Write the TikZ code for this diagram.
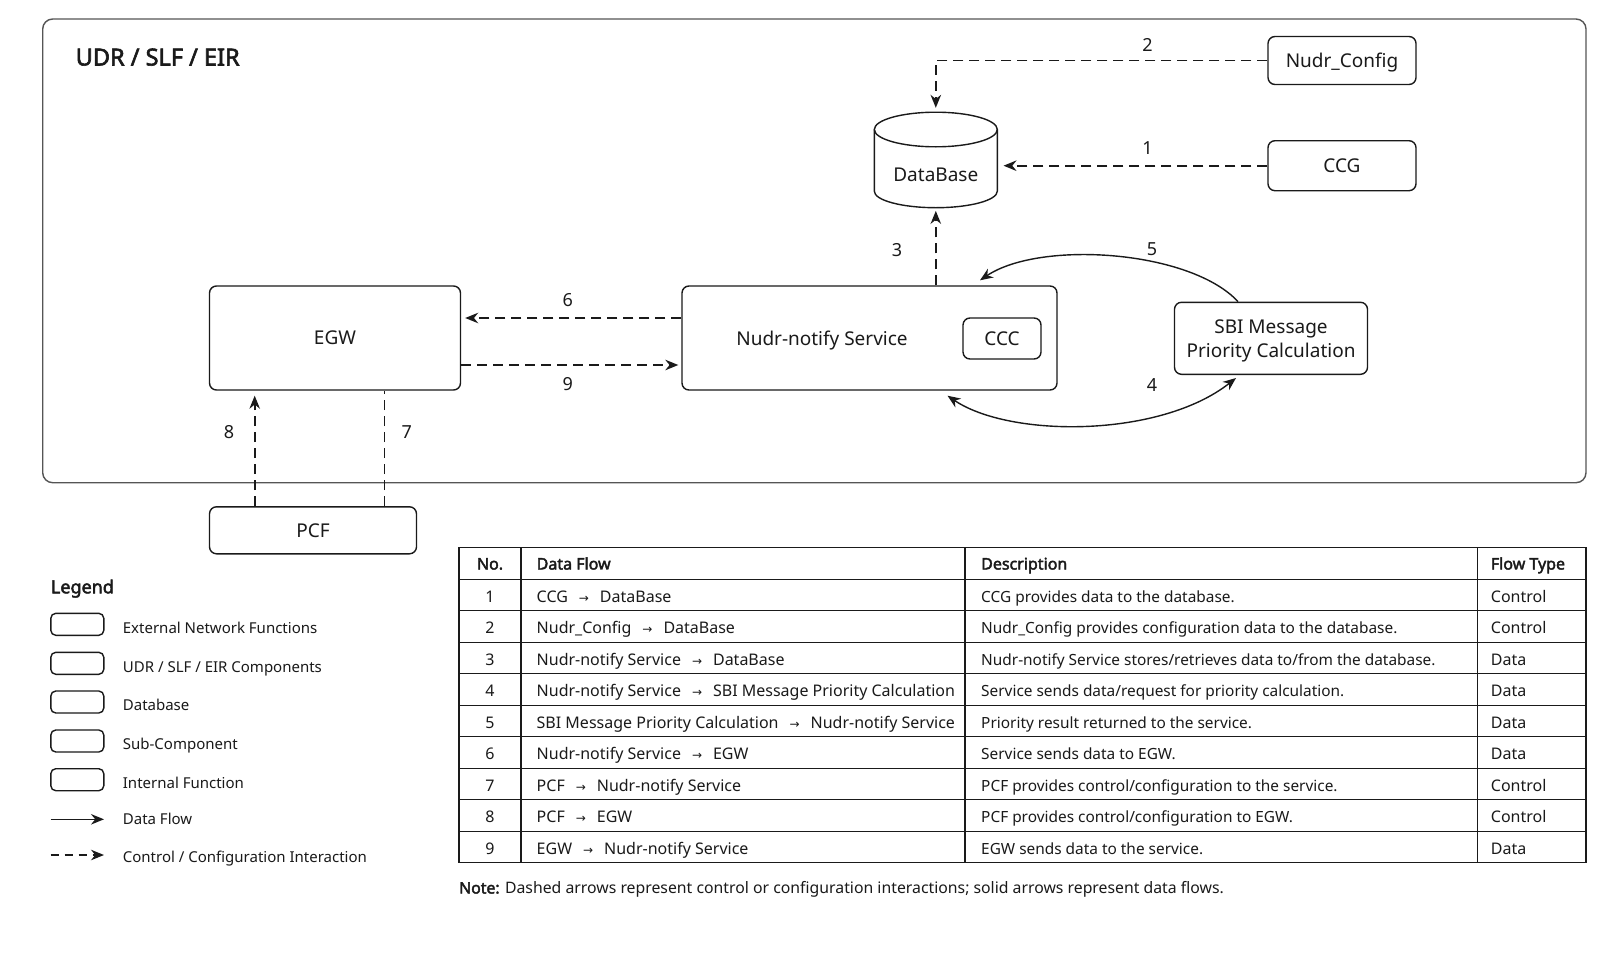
\documentclass[tikz,border=0pt]{standalone}
\usepackage{fontspec}
\setmainfont{Noto Sans}[BoldFont={Noto Sans},BoldFeatures={FakeBold=2.5}]
\newfontfamily\arrfont{DejaVu Sans}
\usetikzlibrary{arrows.meta}
\definecolor{ink}{HTML}{1A1A1A}
\definecolor{framec}{HTML}{555555}
\newcommand\flowarr{\hspace{11pt}{\arrfont\fontsize{12}{12}\selectfont →}\hspace{11pt}}
\newcommand\tabrow[5]{%
  \pgfmathsetmacro\rowy{547.7+31.5*(#1+0.5)+7.3}%
  \node[tx, anchor=base] (no#1) at (490,\rowy) {#2};%
  \node[tx, anchor=base west] (fl#1) at (536.5,\rowy) {#3};%
  \node[txd, anchor=base west] (de#1) at (981,\rowy) {#4};%
  \node[tx, anchor=base west] (ty#1) at (1490.7,\rowy) {#5};%
}
\begin{document}
\begin{tikzpicture}[x=1pt,y=-1pt,
  every node/.style={text=ink},
  box/.style={draw=ink, line width=1.4pt, rounded corners=7pt, inner sep=0pt, align=center, font=\fontsize{19}{24}\selectfont, text height=13.7pt, text depth=0pt},
  dsh/.style={draw=ink, line width=1.6pt, dash pattern=on 10pt off 6pt},
  tipd/.style={-{Stealth[length=13pt,width=10.5pt]}},
  dat/.style={draw=ink, line width=1.4pt},
  lbl/.style={font=\fontsize{18}{20}\selectfont, inner sep=0pt},
  tx/.style={font=\fontsize{16}{19}\selectfont, inner sep=0pt},
  txd/.style={font=\fontsize{15.4}{19}\selectfont, inner sep=0pt},
  th/.style={font=\fontsize{16}{19}\selectfont\bfseries, inner sep=0pt},
  lg/.style={font=\fontsize{15}{18}\selectfont, inner sep=0pt, anchor=base west},
  lgbox/.style={draw=ink, line width=1.4pt, rounded corners=5pt, minimum width=53pt, minimum height=22pt, inner sep=0pt},
  grid/.style={draw=ink, line width=1.4pt}
]
\useasboundingbox[fill=white] (0,0) rectangle (1624,969);

% frame
\draw[draw=framec, line width=1.4pt, rounded corners=10pt] (42.7,19) rectangle (1586,482.7);
\node[font=\fontsize{23.5}{28}\selectfont\bfseries, anchor=base west, inner sep=0pt] (title) at (75.5,65.5) {UDR / SLF / EIR};

% nodes
\node[box, minimum width=251pt, minimum height=104pt] (egw) at (335,338) {EGW};
\node[box, minimum width=375pt, minimum height=104pt] (nudr) at (869.5,338) {};
\node[font=\fontsize{19}{24}\selectfont, inner sep=0pt, text height=13.7pt, text depth=0pt] (nudrtxt) at (822,339) {Nudr-notify Service};
\node[box, minimum width=78pt, minimum height=41pt] (ccc) at (1002,338.5) {CCC};
\node[box, minimum width=193pt, minimum height=72pt, text height=37.7pt] (sbi) at (1271,338.3) {SBI Message\\Priority Calculation};
\node[box, minimum width=207pt, minimum height=47pt] (pcf) at (313,530.3) {PCF};
\node[box, minimum width=148pt, minimum height=48pt] (cfg) at (1342,60.5) {Nudr\_Config};
\node[box, minimum width=148pt, minimum height=50pt] (ccg) at (1342,165.7) {CCG};

% database cylinder
\node[minimum width=123pt, minimum height=95.7pt, inner sep=0pt] (db) at (935.8,159.85) {};
\node[font=\fontsize{19}{24}\selectfont, inner sep=0pt, text height=13.7pt, text depth=0pt] (dbtxt) at (935.8,175) {DataBase};
\draw[draw=ink, line width=1.4pt] (935.8,129.5) ellipse [x radius=61.5pt, y radius=17.3pt];
\draw[draw=ink, line width=1.4pt] (874.3,129.5) -- (874.3,191.2) arc[start angle=180, end angle=360, x radius=61.5pt, y radius=16.5pt] -- (997.3,129.5);

% connectors
\coordinate (p8) at ([xshift=-58.3pt]pcf.north);
\coordinate (p7) at ([xshift=71.5pt]pcf.north);
\draw[dsh, tipd, shorten >=6pt] (ccg.west) -- (ccg.west -| db.east);
\draw[dsh, tipd, shorten >=4pt] (cfg.west) -| (db.north);
\draw[dsh, tipd, shorten >=3pt] (db.south |- nudr.north) -- (db.south);
\draw[dsh, tipd, shorten >=4pt] ([yshift=20pt]nudr.west) -- ([yshift=20pt]egw.east);
\draw[dsh, tipd, shorten >=3pt] ([yshift=-27pt]egw.east) -- ([yshift=-27pt]nudr.west);
\draw[dsh, tipd, shorten >=5pt] (p8) -- (p8 |- egw.south);
\draw[dsh] (p7) -- (p7 |- egw.south);
\draw[dat, tipd] ([xshift=-33pt]sbi.north) .. controls (1190,250) and (1040,240) .. ([xshift=110.5pt,yshift=5pt]nudr.north);
\draw[dat, {Stealth[length=13pt,width=10.5pt]}-{Stealth[length=13pt,width=10.5pt]}] ([xshift=78pt,yshift=-5pt]nudr.south) .. controls (1010,438) and (1160,438) .. ([xshift=-35pt,yshift=-3pt]sbi.south);

% labels
\node[lbl] (l1) at (1147.5,148) {1};
\node[lbl] (l2) at (1147.5,45) {2};
\node[lbl] (l3) at (897,250) {3};
\node[lbl] (l4) at (1152,385) {4};
\node[lbl] (l5) at (1152,249) {5};
\node[lbl] (l6) at (567.7,300) {6};
\node[lbl] (l7) at (406.7,432) {7};
\node[lbl] (l8) at (229,432) {8};
\node[lbl] (l9) at (567.7,384) {9};

% legend
\node[font=\fontsize{18}{22}\selectfont\bfseries, anchor=base west, inner sep=0pt] (legt) at (50.7,593.3) {Legend};
\node[lgbox] (lb1) at (77.3,624.3) {};
\node[lgbox] (lb2) at (77.3,663.3) {};
\node[lgbox] (lb3) at (77.3,702) {};
\node[lgbox] (lb4) at (77.3,741) {};
\node[lgbox] (lb5) at (77.3,779.7) {};
\node[lg] (lt1) at (122.7,633) {External Network Functions};
\node[lg] (lt2) at (122.7,672) {UDR / SLF / EIR Components};
\node[lg] (lt3) at (122.7,710.7) {Database};
\node[lg] (lt4) at (122.7,749.7) {Sub-Component};
\node[lg] (lt5) at (122.7,788.4) {Internal Function};
\coordinate (la1) at (50.7,819.3);
\coordinate (lb1e) at (104,819.3);
\coordinate (la2) at (50.7,855);
\coordinate (lb2e) at (104,855);
\draw[dat, tipd] (la1) -- (lb1e);
\draw[draw=ink, line width=1.5pt, dash pattern=on 8pt off 6pt, tipd] (la2) -- (lb2e);
\node[lg] (lt6) at (122.7,824.5) {Data Flow};
\node[lg] (lt7) at (122.7,862) {Control / Configuration Interaction};

% table
\draw[grid] (459,547.7) rectangle (1586,862.7);
\foreach \k in {1,...,9} {\draw[grid] (459,547.7+31.5*\k) -- (1586,547.7+31.5*\k);}
\draw[grid] (521,547.7) -- (521,862.7);
\draw[grid] (965,547.7) -- (965,862.7);
\draw[grid] (1477.3,547.7) -- (1477.3,862.7);
\node[th, anchor=base] (hno) at (490,569.5) {No.};
\node[th, anchor=base west] (hfl) at (536.5,569.5) {Data Flow};
\node[th, anchor=base west] (hde) at (981,569.5) {Description};
\node[th, anchor=base west] (hty) at (1490.7,569.5) {Flow Type};
\tabrow{1}{1}{CCG\flowarr DataBase}{CCG provides data to the database.}{Control}
\tabrow{2}{2}{Nudr\_Config\flowarr DataBase}{Nudr\_Config provides configuration data to the database.}{Control}
\tabrow{3}{3}{Nudr-notify Service\flowarr DataBase}{Nudr-notify Service stores/retrieves data to/from the database.}{Data}
\tabrow{4}{4}{Nudr-notify Service\flowarr SBI Message Priority Calculation}{Service sends data/request for priority calculation.}{Data}
\tabrow{5}{5}{SBI Message Priority Calculation\flowarr Nudr-notify Service}{Priority result returned to the service.}{Data}
\tabrow{6}{6}{Nudr-notify Service\flowarr EGW}{Service sends data to EGW.}{Data}
\tabrow{7}{7}{PCF\flowarr Nudr-notify Service}{PCF provides control/configuration to the service.}{Control}
\tabrow{8}{8}{PCF\flowarr EGW}{PCF provides control/configuration to EGW.}{Control}
\tabrow{9}{9}{EGW\flowarr Nudr-notify Service}{EGW sends data to the service.}{Data}

\node[font=\fontsize{15.8}{19}\selectfont, inner sep=0pt, anchor=base west] (note) at (459,893.5) {\textbf{Note:} Dashed arrows represent control or configuration interactions; solid arrows represent data flows.};
\end{tikzpicture}
\end{document}
